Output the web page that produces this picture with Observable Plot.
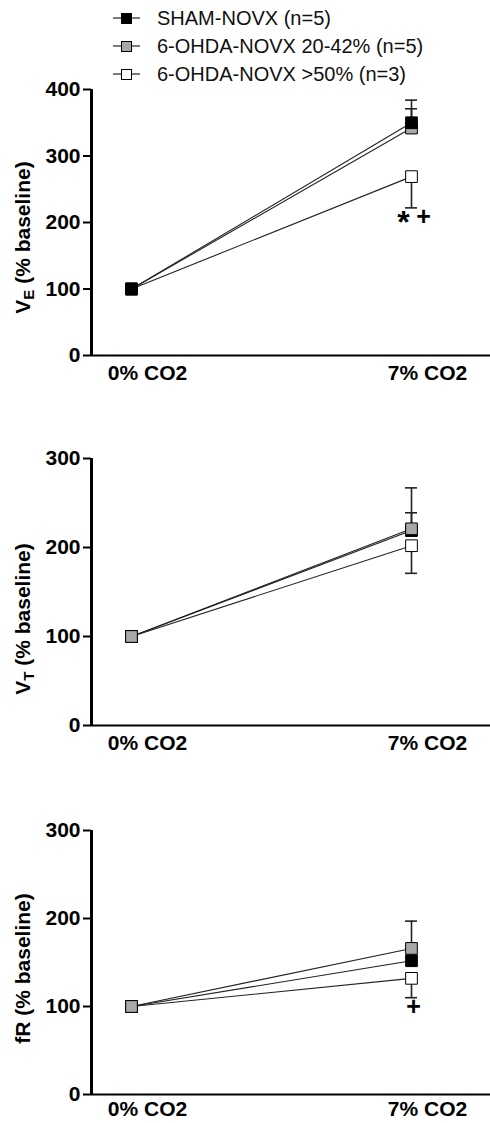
<!DOCTYPE html>
<html><head><meta charset="utf-8">
<script src="https://cdn.jsdelivr.net/npm/d3@7"></script>
<script src="https://cdn.jsdelivr.net/npm/@observablehq/plot@0.6"></script>
<style>
body{margin:0;background:#fff;font-family:"Liberation Sans",Arial,sans-serif;}
#wrap{position:relative;width:490px;height:1123px;overflow:hidden;}
#legend{position:absolute;left:113px;top:4px;z-index:2;}
.row{height:28px;display:flex;align-items:center;font-size:20px;color:#111;white-space:nowrap;}
.row svg{margin-right:17px;flex:none;}
#charts svg{display:block}
</style></head><body>
<div id="wrap"><div id="legend"></div><div id="charts"></div></div>
<script>
// ---- data ----
const co2 = [0, 7];
const co2Labels = ["0% CO2", "7% CO2"];
const groups = ["SHAM-NOVX (n=5)", "6-OHDA-NOVX 20-42% (n=5)", "6-OHDA-NOVX >50% (n=3)"];
const groupFill = ["#000000", "#a8a8a8", "#ffffff"];

// VE (% baseline)
const veSham = [100, 350];
const veMid = [100, 342];
const veHigh = [100, 269];
const veSem = [34, 29, 47];      // SEM at 7% CO2
const veSemDir = [1, 1, -1];     // bar drawn up (+1) or down (-1)
const veTicks = [0, 100, 200, 300, 400];
const veSig = ["*", "+"];

// VT (% baseline)
const vtSham = [100, 219];
const vtMid = [100, 221];
const vtHigh = [100, 202];
const vtSem = [48, 18, 31];
const vtSemDir = [1, 1, -1];
const vtTicks = [0, 100, 200, 300];
const vtSig = [];

// fR (% baseline)
const frSham = [100, 152];
const frMid = [100, 166];
const frHigh = [100, 132];
const frSem = [15, 31, 22];
const frSemDir = [1, 1, -1];
const frTicks = [0, 100, 200, 300];
const frSig = ["+"];

// ---- layout ----
const panels = [
  {label: "VE (% baseline)", base: "V", sub: "E", rest: " (% baseline)", means: [veSham, veMid, veHigh], sem: veSem, dir: veSemDir,
   ticks: veTicks, sig: veSig, order: [2, 1, 0], height: 390, marginTop: 89, marginBottom: 35, labelDy: 15, xPad: 10},
  {label: "VT (% baseline)", base: "V", sub: "T", rest: " (% baseline)", means: [vtSham, vtMid, vtHigh], sem: vtSem, dir: vtSemDir,
   ticks: vtTicks, sig: vtSig, order: [2, 0, 1], height: 370, marginTop: 68, marginBottom: 35, labelDy: 27, xPad: 10},
  {label: "fR (% baseline)", base: null, means: [frSham, frMid, frHigh], sem: frSem, dir: frSemDir,
   ticks: frTicks, sig: frSig, order: [2, 0, 1], height: 363, marginTop: 70, marginBottom: 29, labelDy: 6, xPad: 7}
];

const FONT = '"Liberation Sans", Arial, sans-serif';

// legend
const legend = d3.select("#legend");
groups.forEach((g, i) => {
  const row = legend.append("div").attr("class", "row");
  const s = row.append("svg").attr("width", 27).attr("height", 14);
  s.append("line").attr("x1", 0).attr("x2", 27).attr("y1", 7).attr("y2", 7).attr("stroke", "#222").attr("stroke-width", 1.2);
  s.append("rect").attr("x", 8.5).attr("y", 2.5).attr("width", 10).attr("height", 10)
    .attr("fill", groupFill[i]).attr("stroke", "#000").attr("stroke-width", 1);
  row.append("span").text(g);
});

const charts = document.getElementById("charts");

panels.forEach(p => {
  const rows = [];
  p.order.forEach(g => co2.forEach((c, i) => rows.push({group: groups[g], gi: g, co2: c, value: p.means[g][i]})));
  const errRows = p.order.map(g => ({gi: g, co2: co2[1], value: p.means[g][1], end: p.means[g][1] + p.dir[g] * p.sem[g]}));
  const lowEnd = p.means[2][1] - p.sem[2];
  const n = p.sig.length;
  const sigRows = p.sig.map((s, i) => ({s, co2: co2[1], y: lowEnd, dx: (i - (n - 1) / 2) * 20 + 2}));

  const sigMarks = sigRows.map(r => Plot.text([r], {
    x: "co2", y: "y", text: "s", dx: r.dx, dy: r.s === "*" ? 15 : 9,
    fontSize: r.s === "*" ? 32 : 25, fontWeight: "bold", lineAnchor: "middle", textAnchor: "middle", fill: "#000"
  }));

  const yMax = p.ticks[p.ticks.length - 1];
  const svg = Plot.plot({
    width: 490, height: p.height,
    marginLeft: 91, marginRight: 0, marginTop: p.marginTop, marginBottom: p.marginBottom,
    style: {fontFamily: FONT, fontWeight: "bold", fontSize: "21px", background: "white", color: "#000", overflow: "visible"},
    x: {domain: [-1, 8.975]},
    y: {domain: [0, yMax]},
    color: {type: "identity"},
    marks: [
      Plot.axisY({ticks: p.ticks, tickSize: 8, tickPadding: 3, fontSize: 21, fontWeight: "bold", strokeWidth: 2, label: null, tickFormat: d => String(d)}),
      Plot.axisX({ticks: co2, tickSize: 0, tickPadding: p.xPad, dx: 16, fontSize: 21, fontWeight: "bold", label: null,
                  tickFormat: d => co2Labels[co2.indexOf(d)]}),
      Plot.line(rows, {x: "co2", y: "value", z: "group", stroke: "#222", strokeWidth: 1.1}),
      Plot.ruleX(errRows, {x: "co2", y1: "value", y2: "end", stroke: "#222", strokeWidth: 1.6}),
      Plot.ruleY(errRows, {y: "end", x1: "co2", x2: "co2", insetLeft: -6, insetRight: -6, stroke: "#222", strokeWidth: 1.6}),
      Plot.dot(rows, {x: "co2", y: "value", symbol: "square", r: 6.6, fill: d => groupFill[d.gi], stroke: "#000", strokeWidth: 1}),
      ...sigMarks,
      Plot.ruleX([-1], {stroke: "#000", strokeWidth: 3}),
      Plot.ruleY([0], {stroke: "#000", strokeWidth: 2}),
      Plot.text([p.label], {text: d => d, frameAnchor: "left", dx: -68, dy: p.labelDy, rotate: -90,
                 fontSize: 21, fontWeight: "bold", textAnchor: "middle", lineAnchor: "middle", fill: "#000"})
    ]
  });
  charts.appendChild(svg);
  if (p.base) {
    svg.querySelectorAll("text").forEach(t => {
      if (t.textContent === p.label) {
        t.textContent = "";
        const ns = "http://www.w3.org/2000/svg";
        const a = document.createElementNS(ns, "tspan"); a.textContent = p.base;
        const b = document.createElementNS(ns, "tspan"); b.textContent = p.sub;
        b.setAttribute("font-size", "15"); b.setAttribute("dy", "4");
        const c = document.createElementNS(ns, "tspan"); c.textContent = p.rest;
        c.setAttribute("dy", "-4");
        t.appendChild(a); t.appendChild(b); t.appendChild(c);
      }
    });
  }
});
</script>
</body></html>
